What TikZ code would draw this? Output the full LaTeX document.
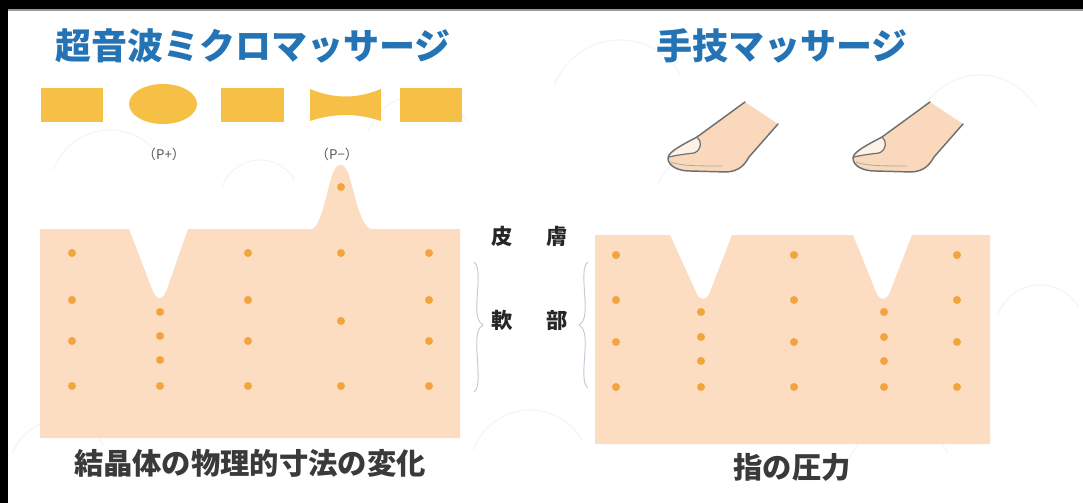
\documentclass[tikz,border=0pt]{standalone}
\usepackage{fontspec}
\setmainfont{Noto Sans CJK JP}
\begin{document}
\begin{tikzpicture}[x=0.75pt,y=-0.75pt,
  title/.style={font=\fontsize{27}{30}\selectfont\bfseries, text=titleblue, inner sep=0pt},
  caption/.style={font=\fontsize{22}{24}\selectfont\bfseries, text=capgray, inner sep=0pt},
  layer/.style={font=\fontsize{16}{18}\selectfont\bfseries, text=black!85, inner sep=0pt},
  plabel/.style={font=\fontsize{10}{12}\selectfont, text=black!65, inner sep=0pt},
  tissue/.style={fill=skin, draw=none},
  crystal/.style={fill=gold, draw=none},
  dot/.style={fill=dotorange, draw=none},
  bracket/.style={draw=bracegray, line width=0.7pt},
  fingerline/.style={draw=fingergray, line width=1.1pt, line join=round, line cap=round},
  haze/.style={draw=hazeblue, line width=0.9pt}
]
\definecolor{titleblue}{HTML}{2473B4}
\definecolor{capgray}{HTML}{3A3A3A}
\definecolor{skin}{HTML}{FCDDC2}
\definecolor{gold}{HTML}{F6BF45}
\definecolor{dotorange}{HTML}{F3A43E}
\definecolor{bracegray}{HTML}{C3C9D6}
\definecolor{fingergray}{HTML}{707070}
\definecolor{fingerskin}{HTML}{F9D8BC}
\definecolor{nailcol}{HTML}{FDF1E8}
\definecolor{hazeblue}{HTML}{F3F5F9}

% page and frame
\useasboundingbox (0,0) rectangle (1083,503);
\fill[white] (0,0) rectangle (1083,503);
% faint marbled paper
\foreach \cx/\cy/\r in {110/190/60, 420/150/55, 620/110/70, 980/140/65, 60/470/50, 530/470/60, 900/480/55, 1040/330/45, 260/200/40, 700/200/45}
  \draw[haze] (\cx,\cy) ++(200:\r) arc[start angle=200, end angle=330, radius=\r];
\fill[black] (0,0) rectangle (1083,9);
\fill[black] (0,0) rectangle (8,503);
\draw[black!40, line width=1pt] (8,10) -- (1083,10);

% headings
\node[title] (ttlL) at (253,46) {超音波ミクロマッサージ};
\node[title] (ttlR) at (782,46) {手技マッサージ};

% crystal states
\fill[crystal] (41,88) rectangle (103,122);
\fill[crystal] (163,104) ellipse[x radius=34, y radius=20];
\fill[crystal] (221,88) rectangle (284,122);
\fill[crystal] (310,89) .. controls (334,99) and (357,99) .. (381,89)
  -- (381,121) .. controls (357,113) and (334,113) .. (310,121) -- cycle;
\fill[crystal] (400,88) rectangle (462,122);
\node[plabel] (pplus) at (164,154) {（P+）};
\node[plabel] (pminus) at (337,154) {（P−）};

% left tissue block
\fill[tissue] (40,229) -- (129,229) -- (152,289)
  .. controls (156,301) and (163,301) .. (167,289) -- (188,229)
  -- (312,229) .. controls (322,226) and (328,184) .. (333,173)
  .. controls (337,162) and (344,162) .. (348,173)
  .. controls (353,184) and (359,226) .. (371,229)
  -- (460,229) -- (460,438) -- (40,438) -- cycle;
\foreach \x/\y in {72/253,72/300,72/341,72/386,
                   160/312,160/336,160/360,160/386,
                   248/253,248/300,248/341,248/386,
                   341/187,341/253,341/321,341/386,
                   429/253,429/300,429/341,429/386}
  \fill[dot] (\x,\y) circle[radius=4];
\node[caption] (capL) at (250,463) {結晶体の物理的寸法の変化};

% right tissue block
\fill[tissue] (595,235) -- (670,235) -- (696,292)
  .. controls (699,301) and (707,301) .. (710,292) -- (732,235)
  -- (853,235) -- (876,292)
  .. controls (879,301) and (887,301) .. (890,292) -- (912,235)
  -- (990,235) -- (990,444) -- (595,444) -- cycle;
\foreach \x/\y in {616/255,616/300,616/342,616/387,
                   701/312,701/337,701/361,701/387,
                   794/255,794/300,794/342,794/387,
                   884/312,884/337,884/361,884/387,
                   957/255,957/300,957/342,957/387}
  \fill[dot] (\x,\y) circle[radius=4];
\node[caption] (capR) at (792,467) {指の圧力};

% fingertips
\foreach \dx in {0,185} {
  \begin{scope}[xshift=\dx*0.75pt]
    \fill[fingerskin] (745,102) -- (697,137)
      .. controls (682,145) and (668,152) .. (668,158)
      .. controls (668,166) and (678,171) .. (690,171)
      -- (727,172) .. controls (740,171) and (745,164) .. (749,157)
      -- (778,124) -- cycle;
    \fill[nailcol] (697,137)
      .. controls (682,145) and (670,151) .. (669,157)
      .. controls (677,155) and (686,154) .. (694,153)
      .. controls (702,150) and (702,141) .. (697,137) -- cycle;
    \draw[fingerline] (745,102) -- (697,137)
      .. controls (682,145) and (668,152) .. (668,158)
      .. controls (668,166) and (678,171) .. (690,171)
      -- (727,172) .. controls (740,171) and (745,164) .. (749,157)
      -- (778,124);
    \draw[fingerline, line width=0.9pt] (697,137)
      .. controls (702,141) and (702,150) .. (694,153)
      .. controls (686,154) and (677,155) .. (669,157);
    \draw[fingerline, line width=0.6pt, draw=fingergray!60] (671,162)
      .. controls (680,166) and (700,166) .. (722,166);
  \end{scope}
}

% layer names between the panels
\node[layer] (hi) at (502,236) {皮};
\node[layer] (fu) at (557,236) {膚};
\node[layer] (nan) at (502,320) {軟};
\node[layer] (bu) at (557,320) {部};
\coordinate (braceL) at (474,262);
\coordinate (braceR) at (588,262);
\draw[bracket] (braceL) .. controls (480,266) and (478,282) .. (477,300)
  .. controls (476,316) and (478,322) .. (483,325)
  .. controls (478,328) and (476,334) .. (477,352)
  .. controls (478,372) and (480,388) .. (474,392);
\draw[bracket] (braceR) .. controls (582,266) and (584,282) .. (585,300)
  .. controls (586,316) and (584,322) .. (579,325)
  .. controls (584,328) and (586,334) .. (585,350)
  .. controls (584,368) and (582,384) .. (588,388);
\end{tikzpicture}
\end{document}
